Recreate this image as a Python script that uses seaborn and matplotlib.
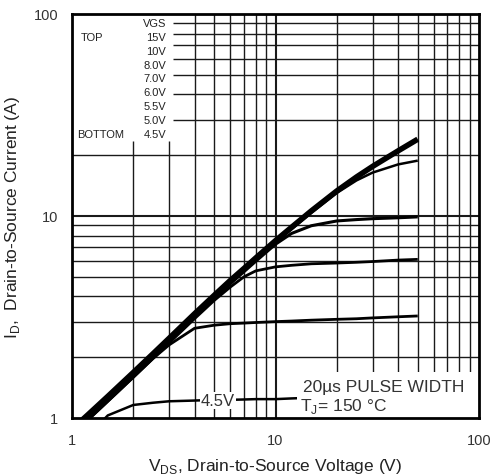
import numpy as np
import pandas as pd
import matplotlib
matplotlib.use("Agg")
import matplotlib.pyplot as plt
from matplotlib.patches import Rectangle
import seaborn as sns

# Output characteristics, Tj = 150 C
vds = [1.0, 1.2, 1.5, 2, 2.5, 3, 4, 5, 6, 7, 8, 10, 12, 15, 20, 25, 30, 40, 50]

id_15v = [0.88, 1.04, 1.28, 1.68, 2.08, 2.48, 3.28, 4.05, 4.8, 5.5, 6.2, 7.55, 8.8, 10.6, 13.3, 15.6, 17.6, 21.0, 24.0]
id_10v = [0.86, 1.01, 1.25, 1.64, 2.03, 2.42, 3.2, 3.95, 4.68, 5.37, 6.05, 7.37, 8.6, 10.35, 13.0, 15.0, 16.4, 18.0, 18.8]
id_8v = [0.85, 1.0, 1.23, 1.62, 2.0, 2.39, 3.16, 3.9, 4.62, 5.3, 5.97, 7.25, 8.2, 8.95, 9.45, 9.6, 9.7, 9.8, 9.9]
id_7v = [0.84, 0.98, 1.21, 1.59, 1.97, 2.35, 3.1, 3.82, 4.45, 5.0, 5.35, 5.6, 5.7, 5.8, 5.85, 5.9, 5.95, 6.05, 6.1]
id_6v = [0.84, 0.98, 1.21, 1.59, 1.97, 2.3, 2.78, 2.88, 2.93, 2.95, 2.97, 3.0, 3.02, 3.05, 3.08, 3.1, 3.13, 3.17, 3.2]
id_45v = [0.7, 0.82, 1.03, 1.16, 1.19, 1.21, 1.22, 1.23, 1.23, 1.235, 1.24, 1.24, 1.25, 1.26, 1.27, 1.28, 1.28, 1.29, 1.3]

vgs_labels = ["VGS", "15V", "10V", "8.0V", "7.0V", "6.0V", "5.5V", "5.0V", "4.5V"]
decade_ticks = [1, 10, 100]
tick_labels = ["1", "10", "100"]

curves = pd.concat([
    pd.DataFrame({"VDS": vds, "ID": ids, "VGS": name, "lw": lw})
    for name, ids, lw in [("15V", id_15v, 4.0), ("10V", id_10v, 1.8), ("8.0V", id_8v, 2.2),
                          ("7.0V", id_7v, 2.0), ("6.0V", id_6v, 2.0), ("4.5V", id_45v, 1.8)]
])

sns.set_style("white")
plt.rcParams["font.family"] = ["Liberation Sans", "DejaVu Sans"]
plt.rcParams["mathtext.fontset"] = "custom"
plt.rcParams["mathtext.rm"] = "Liberation Sans"

fig = plt.figure(figsize=(4.94, 4.77), dpi=100)
ax = fig.add_axes([72 / 494, 1 - 419 / 477, 407 / 494, 404 / 477])
ax.set_xscale("log")
ax.set_yscale("log")
ax.set_xlim(1, 100)
ax.set_ylim(1, 100)

# datasheet-style grid, kept clear of the VGS table in the upper left
gc = "#1a1a1a"
minor = [m * d for d in (1, 10) for m in range(2, 10)]
for v in minor:
    if v in (2, 3):
        ax.vlines(v, 1, 23.5, color=gc, lw=1.0, zorder=1)
    else:
        ax.vlines(v, 1, 100, color=gc, lw=1.0, zorder=1)
    if v >= 30:
        ax.hlines(v, 3.14, 100, color=gc, lw=1.0, zorder=1)
    else:
        ax.hlines(v, 1, 100, color=gc, lw=1.0, zorder=1)
ax.vlines(10, 1, 100, color=gc, lw=1.5, zorder=1)
ax.hlines(10, 1, 100, color=gc, lw=1.5, zorder=1)

for name, grp in curves.groupby("VGS", sort=False):
    sns.lineplot(data=grp, x="VDS", y="ID", color="black", lw=grp["lw"].iloc[0],
                 ax=ax, zorder=3, solid_capstyle="butt")

# VGS table
ys = np.linspace(0.978, 0.703, len(vgs_labels))
for lab, y in zip(vgs_labels, ys):
    ax.text(0.231, y, lab, transform=ax.transAxes, ha="right", va="center",
            fontsize=8, color="#222222", zorder=5)
ax.text(0.022, ys[1], "TOP", transform=ax.transAxes, ha="left", va="center",
        fontsize=8, color="#222222", zorder=5)
ax.text(0.012, ys[-1], "BOTTOM", transform=ax.transAxes, ha="left", va="center",
        fontsize=8, color="#222222", zorder=5)

# curve label and test condition box
ax.text(5.2, 1.225, "4.5V", ha="center", va="center", fontsize=12, color="#333333",
        zorder=5, bbox=dict(facecolor="white", edgecolor="none", pad=0.6))
ax.add_patch(Rectangle((0.553, 0), 0.447, 0.114, transform=ax.transAxes,
                       facecolor="white", edgecolor="none", zorder=4))
ax.text(0.568, 0.079, "20µs PULSE WIDTH", transform=ax.transAxes, ha="left",
        va="center", fontsize=12.5, color="#333333", zorder=5)
ax.text(0.56, 0.03, r"T$_\mathregular{J}$= 150 °C", transform=ax.transAxes, ha="left",
        va="center", fontsize=12.5, color="#333333", zorder=5)

ax.set_xticks(decade_ticks)
ax.set_xticklabels(tick_labels)
ax.set_yticks(decade_ticks)
ax.set_yticklabels(tick_labels)
ax.minorticks_off()
ax.tick_params(length=0, labelsize=10.5, colors="#333333", pad=10)
ax.tick_params(axis="x", pad=11)

ax.set_xlabel(r"V$_\mathregular{DS}$, Drain-to-Source Voltage (V)", fontsize=12.5,
              color="#222222", labelpad=6)
ax.set_ylabel(r"I$_\mathregular{D}$,  Drain-to-Source Current (A)", fontsize=12.5,
              color="#222222", labelpad=8)

for s in ax.spines.values():
    s.set_visible(True)
    s.set_color("black")
    s.set_linewidth(2.0)
    s.set_zorder(6)

fig.savefig("out.png", dpi=100)
